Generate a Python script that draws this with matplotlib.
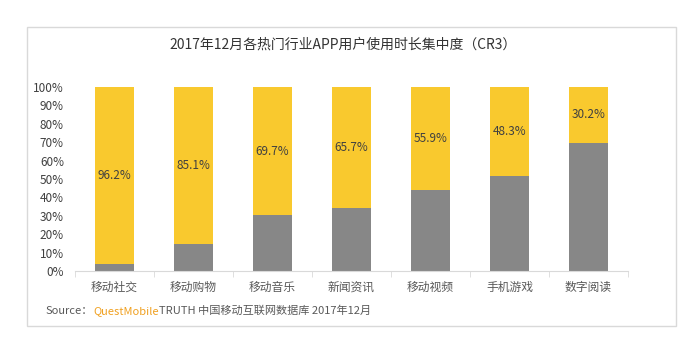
import matplotlib
matplotlib.use("Agg")
import matplotlib.pyplot as plt
from matplotlib.patches import Rectangle

plt.rcParams['font.family'] = ['Noto Sans CJK SC', 'DejaVu Sans']

categories = ["移动社交", "移动购物", "移动音乐", "新闻资讯", "移动视频", "手机游戏", "数字阅读"]
cr3 = [96.2, 85.1, 69.7, 65.7, 55.9, 48.3, 30.2]
others = [100 - v for v in cr3]
yticks = [0, 10, 20, 30, 40, 50, 60, 70, 80, 90, 100]

YELLOW = "#F9C92E"
GRAY = "#878787"
TXT = "#404040"

fig = plt.figure(figsize=(6.86, 3.48), dpi=100)
fig.patch.set_facecolor("white")
fig.patches.append(Rectangle((27/686, 1-326/348), (676-27)/686, (326-27)/348,
                             transform=fig.transFigure, fill=False,
                             edgecolor="#d9d9d9", linewidth=1.0))

ax = fig.add_axes([75/686, 1-271/348, (628-75)/686, (271-87)/348])
x = list(range(len(categories)))
ax.bar(x, others, width=0.5, color=GRAY, zorder=2)
ax.bar(x, cr3, bottom=others, width=0.5, color=YELLOW, zorder=2)
for i, (o, v) in enumerate(zip(others, cr3)):
    ax.text(i, o + v / 2, f"{v:.1f}%", ha="center", va="center", fontsize=8.5, color=TXT)

ax.set_ylim(0, 100)
ax.set_xlim(-0.5, len(categories) - 0.5)
ax.set_yticks(yticks)
ax.set_yticklabels([f"{t}%" for t in yticks], fontsize=8.5, color=TXT)
ax.set_xticks(x)
ax.set_xticklabels(categories, fontsize=8.5, color="#595959")
ax.tick_params(axis="y", length=0, pad=8)
ax.tick_params(axis="x", length=0, pad=7)
ax.set_xticks([i - 0.5 for i in range(len(categories) + 1)], minor=True)
ax.tick_params(axis="x", which="minor", length=4, color="#d9d9d9", direction="out")
for s in ["top", "right", "left"]:
    ax.spines[s].set_visible(False)
ax.spines["bottom"].set_color("#d9d9d9")

fig.text(0.5, 1-45/348, "2017年12月各热门行业APP用户使用时长集中度（CR3）",
         ha="center", va="center", fontsize=10, color="#333333")

t1 = fig.text(46/686, 1-311/348, "Source：", ha="left", va="center", fontsize=8, color="#595959")
t2 = ax.annotate("QuestMobile", xy=(1, 0.5), xycoords=t1, ha="left", va="center",
                 fontsize=8, color="#F0A020")
ax.annotate("TRUTH 中国移动互联网数据库 2017年12月", xy=(1, 0.5), xycoords=t2,
            ha="left", va="center", fontsize=8, color="#595959", annotation_clip=False)

fig.savefig("out.png", dpi=100)
